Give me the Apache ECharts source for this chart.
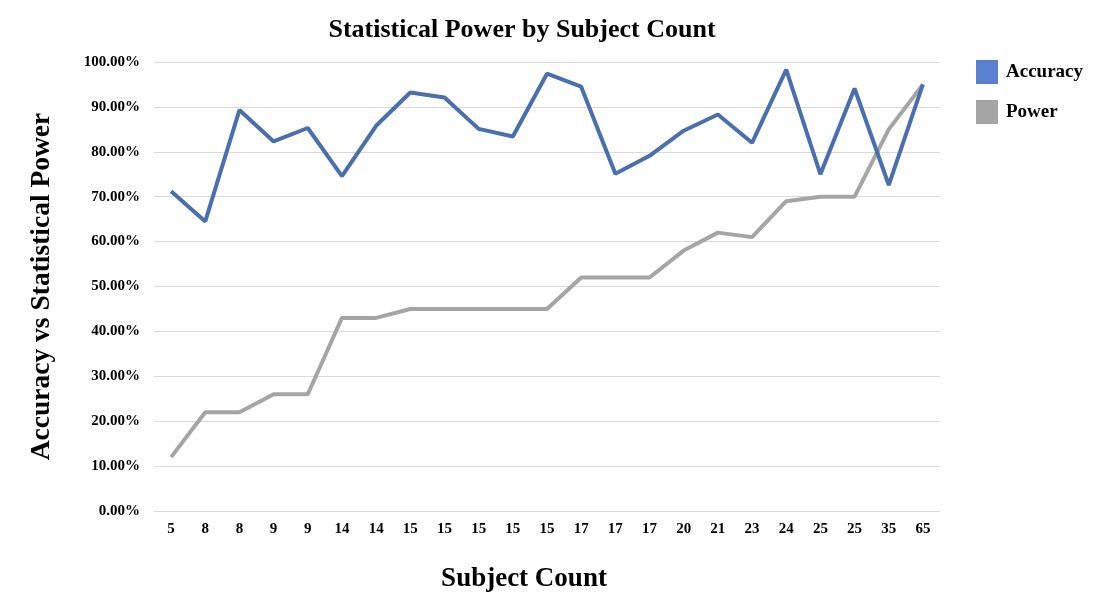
<!DOCTYPE html>
<html>
<head>
<meta charset="utf-8">
<script src="https://cdn.jsdelivr.net/npm/echarts@6/dist/echarts.min.js"></script>
<style>
html,body{margin:0;padding:0;background:#fff;}
#chart{width:1104px;height:609px;}
</style>
</head>
<body>
<div id="chart"></div>
<script>
var subjectCounts = ['5','8','8','9','9','14','14','15','15','15','15','15','17','17','17','20','21','23','24','25','25','35','65'];
var accuracy = [71.2,64.5,89.3,82.3,85.3,74.6,85.8,93.2,92.1,85.1,83.4,97.4,94.5,75.1,79.1,84.7,88.3,82.0,98.3,75.0,94.1,72.6,95.0];
var power = [12,22,22,26,26,43,43,45,45,45,45,45,52,52,52,58,62,61,69,70,70,85,95];
var yTicks = [0,10,20,30,40,50,60,70,80,90,100];

var serif = '"Liberation Serif", "DejaVu Serif", serif';
var chart = echarts.init(document.getElementById('chart'));
chart.setOption({
  animation: false,
  backgroundColor: '#ffffff',
  title: {
    text: 'Statistical Power by Subject Count',
    left: 517, top: 12, textAlign: 'center',
    textStyle: {fontFamily: serif, fontWeight: 'bold', fontSize: 26, color: '#000'}
  },
  legend: {
    orient: 'vertical', left: 971, top: 55,
    itemWidth: 22, itemHeight: 24, itemGap: 16,
    icon: 'rect',
    textStyle: {fontFamily: serif, fontWeight: 'bold', fontSize: 19, color: '#000', padding: [3,0,0,3]},
    data: [
      {name: 'Accuracy', itemStyle: {color: '#5a80cf'}},
      {name: 'Power', itemStyle: {color: '#a5a5a5'}}
    ]
  },
  graphic: [{
    type: 'text',
    style: {text: 'Subject Count', x: 524, y: 579, align: 'center', verticalAlign: 'middle',
      font: 'bold 27px ' + serif, fill: '#000'}
  }],
  grid: {left: 154, right: 164, top: 62, bottom: 98, containLabel: false},
  xAxis: {
    type: 'category',
    data: subjectCounts,
    boundaryGap: true,
    axisLine: {show: false},
    axisTick: {show: false},
    axisLabel: {interval: 0, margin: 11, fontFamily: serif, fontWeight: 'bold', fontSize: 15, color: '#000'},
    splitLine: {show: false}
  },
  yAxis: {
    type: 'value',
    min: 0, max: 100, interval: 10,
    name: 'Accuracy vs Statistical Power',
    nameLocation: 'middle',
    nameGap: 98,
    nameTextStyle: {fontFamily: serif, fontWeight: 'bold', fontSize: 27.5, color: '#000'},
    axisLine: {show: false},
    axisTick: {show: false},
    axisLabel: {
      margin: 14, fontFamily: serif, fontWeight: 'bold', fontSize: 15, color: '#000',
      formatter: function (v) { return v.toFixed(2) + '%'; }
    },
    splitLine: {lineStyle: {color: '#d9d9d9', width: 1}}
  },
  series: [
    {
      name: 'Accuracy', type: 'line', data: accuracy,
      symbol: 'none', lineStyle: {color: '#4a6fae', width: 4}, itemStyle: {color: '#4a6fae'}, z: 3
    },
    {
      name: 'Power', type: 'line', data: power,
      symbol: 'none', lineStyle: {color: '#a5a5a5', width: 4}, itemStyle: {color: '#a5a5a5'}, z: 2
    }
  ]
});
</script>
</body>
</html>
